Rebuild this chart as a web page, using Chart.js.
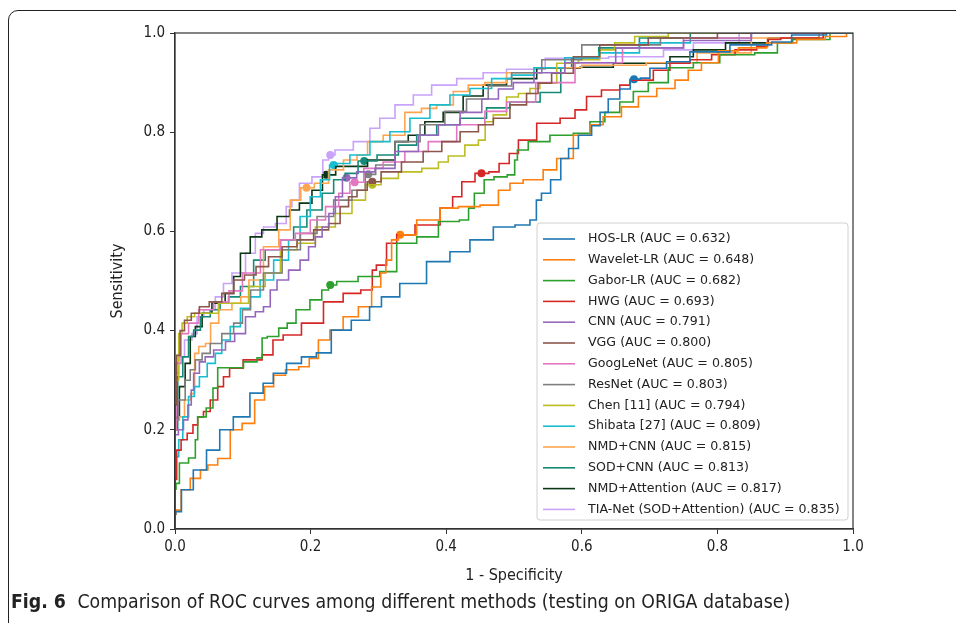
<!DOCTYPE html>
<html>
<head>
<meta charset="utf-8">
<script src="https://cdn.jsdelivr.net/npm/chart.js@4.4.0/dist/chart.umd.min.js"></script>
<style>
  html, body { margin: 0; padding: 0; background: #fff; overflow: hidden; }
  body { width: 956px; height: 623px; position: relative; }
  #frame { position: absolute; left: 8px; top: 10px; width: 1200px; height: 900px;
           border: 1.5px solid #222; border-top-left-radius: 10px; }
  #chart { position: absolute; left: 0; top: 0; }
  #caption { position: absolute; left: 11px; top: 590px; font-size: 19.3px; color: #222;
             font-family: "Liberation Sans Narrow", "DejaVu Sans Condensed", "Liberation Sans", sans-serif;
             white-space: nowrap; }
  #caption b { font-weight: bold; margin-right: 6px; }
</style>
</head>
<body>
<div id="frame"></div>
<canvas id="chart" width="956" height="623"></canvas>
<div id="caption"><b>Fig. 6</b> Comparison of ROC curves among different methods (testing on ORIGA database)</div>
<script>
// ROC curves: [1 - specificity, sensitivity]
const hosLR = [[0,0],[0,0.03],[0.002,0.035],[0.017,0.079],[0.037,0.119],[0.056,0.159],[0.076,0.2],[0.096,0.226],[0.125,0.274],[0.135,0.294],[0.155,0.314],[0.174,0.334],[0.199,0.347],[0.218,0.355],[0.243,0.401],[0.277,0.421],[0.297,0.448],[0.312,0.468],[0.351,0.495],[0.391,0.539],[0.42,0.559],[0.45,0.583],[0.489,0.609],[0.514,0.613],[0.533,0.623],[0.533,0.663],[0.548,0.677],[0.56,0.704],[0.578,0.747],[0.583,0.767],[0.607,0.794],[0.622,0.813],[0.632,0.84],[0.646,0.867],[0.666,0.887],[0.677,0.907],[0.696,0.909],[0.705,0.929],[0.745,0.942],[0.774,0.962],[0.863,0.976],[0.897,0.982],[0.922,0.996],[1,1]];
const waveletLR = [[0,0],[0,0.03],[0.003,0.038],[0.015,0.079],[0.03,0.102],[0.045,0.119],[0.052,0.129],[0.074,0.142],[0.089,0.2],[0.109,0.213],[0.126,0.26],[0.138,0.287],[0.153,0.31],[0.173,0.321],[0.192,0.327],[0.204,0.344],[0.219,0.381],[0.238,0.401],[0.258,0.428],[0.283,0.448],[0.297,0.488],[0.31,0.516],[0.312,0.542],[0.327,0.583],[0.332,0.593],[0.381,0.623],[0.401,0.647],[0.435,0.65],[0.465,0.653],[0.489,0.683],[0.499,0.697],[0.528,0.704],[0.558,0.724],[0.568,0.747],[0.607,0.794],[0.617,0.815],[0.646,0.831],[0.671,0.851],[0.696,0.872],[0.725,0.888],[0.75,0.905],[0.764,0.925],[0.789,0.94],[0.814,0.964],[0.848,0.97],[0.897,0.98],[0.937,0.987],[0.981,0.993],[1,1]];
const gaborLR = [[0,0],[0,0.08],[0.003,0.092],[0.01,0.133],[0.03,0.143],[0.03,0.18],[0.037,0.226],[0.055,0.244],[0.057,0.284],[0.069,0.325],[0.088,0.325],[0.114,0.337],[0.128,0.345],[0.129,0.385],[0.143,0.388],[0.163,0.405],[0.168,0.415],[0.189,0.442],[0.209,0.462],[0.224,0.482],[0.229,0.492],[0.248,0.499],[0.292,0.509],[0.312,0.519],[0.342,0.576],[0.371,0.589],[0.406,0.62],[0.433,0.623],[0.433,0.647],[0.45,0.677],[0.462,0.704],[0.479,0.71],[0.501,0.714],[0.501,0.744],[0.509,0.764],[0.533,0.781],[0.573,0.794],[0.602,0.798],[0.622,0.821],[0.646,0.84],[0.666,0.861],[0.686,0.882],[0.71,0.9],[0.745,0.93],[0.784,0.94],[0.823,0.956],[0.887,0.96],[0.89,0.98],[0.932,0.987],[1,1]];
const hwg = [[0,0],[0,0.1],[0.005,0.159],[0.013,0.18],[0.023,0.193],[0.03,0.21],[0.037,0.226],[0.047,0.237],[0.057,0.26],[0.069,0.287],[0.074,0.307],[0.087,0.324],[0.114,0.341],[0.143,0.351],[0.146,0.381],[0.173,0.391],[0.2,0.415],[0.238,0.458],[0.258,0.475],[0.29,0.482],[0.292,0.522],[0.302,0.532],[0.322,0.576],[0.332,0.593],[0.376,0.613],[0.406,0.647],[0.413,0.67],[0.433,0.7],[0.452,0.717],[0.474,0.72],[0.482,0.737],[0.504,0.757],[0.509,0.784],[0.558,0.818],[0.578,0.828],[0.602,0.845],[0.612,0.872],[0.646,0.885],[0.666,0.895],[0.676,0.905],[0.696,0.905],[0.715,0.925],[0.745,0.939],[0.774,0.946],[0.809,0.956],[0.843,0.966],[0.873,0.973],[0.875,0.987],[0.912,0.99],[1,1]];
const cnn = [[0,0],[0,0.19],[0.01,0.2],[0.015,0.22],[0.023,0.25],[0.025,0.28],[0.03,0.314],[0.042,0.337],[0.047,0.347],[0.067,0.361],[0.082,0.378],[0.094,0.394],[0.114,0.428],[0.123,0.438],[0.138,0.448],[0.143,0.482],[0.158,0.502],[0.177,0.522],[0.192,0.542],[0.202,0.569],[0.212,0.589],[0.222,0.609],[0.232,0.636],[0.241,0.67],[0.253,0.708],[0.283,0.72],[0.307,0.727],[0.342,0.761],[0.376,0.794],[0.401,0.815],[0.44,0.84],[0.465,0.867],[0.489,0.887],[0.509,0.9],[0.55,0.92],[0.6,0.94],[0.7,0.97],[0.8,0.985],[0.9,1],[1,1]];
const vgg = [[0,0],[0,0.25],[0.005,0.35],[0.01,0.4],[0.018,0.421],[0.03,0.435],[0.042,0.448],[0.059,0.458],[0.079,0.475],[0.094,0.502],[0.111,0.512],[0.128,0.529],[0.148,0.549],[0.168,0.569],[0.192,0.583],[0.217,0.603],[0.236,0.616],[0.251,0.65],[0.261,0.67],[0.276,0.683],[0.291,0.7],[0.317,0.72],[0.351,0.74],[0.381,0.761],[0.406,0.781],[0.435,0.801],[0.46,0.815],[0.479,0.828],[0.509,0.855],[0.528,0.878],[0.543,0.899],[0.568,0.919],[0.607,0.952],[0.646,0.976],[0.75,0.99],[0.85,1],[1,1]];
const googLeNet = [[0,0],[0,0.2],[0.003,0.334],[0.015,0.394],[0.025,0.415],[0.045,0.442],[0.069,0.458],[0.09,0.48],[0.109,0.516],[0.143,0.563],[0.168,0.583],[0.187,0.596],[0.212,0.623],[0.232,0.65],[0.251,0.677],[0.265,0.699],[0.292,0.727],[0.322,0.74],[0.356,0.761],[0.391,0.781],[0.44,0.815],[0.474,0.842],[0.504,0.861],[0.56,0.9],[0.62,0.94],[0.7,0.97],[0.8,0.99],[0.9,1],[1,1]];
const resNet = [[0,0],[0,0.22],[0.01,0.26],[0.02,0.3],[0.025,0.321],[0.035,0.341],[0.045,0.354],[0.059,0.374],[0.079,0.394],[0.094,0.415],[0.105,0.442],[0.118,0.482],[0.143,0.516],[0.173,0.563],[0.197,0.596],[0.222,0.63],[0.246,0.663],[0.276,0.683],[0.285,0.715],[0.307,0.734],[0.342,0.781],[0.381,0.815],[0.415,0.842],[0.445,0.867],[0.479,0.893],[0.514,0.92],[0.568,0.946],[0.632,0.976],[0.8,0.99],[0.9,1],[1,1]];
const chen = [[0,0],[0,0.27],[0.003,0.3],[0.008,0.394],[0.013,0.415],[0.023,0.428],[0.035,0.435],[0.059,0.435],[0.069,0.455],[0.094,0.455],[0.123,0.489],[0.143,0.516],[0.168,0.563],[0.192,0.576],[0.222,0.609],[0.251,0.636],[0.271,0.663],[0.291,0.694],[0.317,0.707],[0.342,0.72],[0.386,0.727],[0.391,0.74],[0.415,0.752],[0.44,0.774],[0.455,0.784],[0.46,0.821],[0.479,0.835],[0.499,0.871],[0.514,0.878],[0.533,0.888],[0.543,0.899],[0.583,0.939],[0.607,0.946],[0.646,0.966],[0.651,0.98],[0.705,0.993],[0.75,1],[1,1]];
const shibata = [[0,0],[0,0.14],[0.003,0.146],[0.008,0.18],[0.015,0.226],[0.025,0.267],[0.032,0.287],[0.04,0.307],[0.055,0.334],[0.064,0.354],[0.074,0.381],[0.089,0.408],[0.104,0.445],[0.118,0.468],[0.133,0.502],[0.158,0.542],[0.177,0.583],[0.192,0.63],[0.207,0.67],[0.222,0.704],[0.234,0.734],[0.243,0.737],[0.273,0.754],[0.302,0.781],[0.332,0.801],[0.361,0.828],[0.391,0.855],[0.42,0.875],[0.45,0.888],[0.484,0.908],[0.509,0.915],[0.55,0.93],[0.6,0.95],[0.65,0.96],[0.72,0.98],[0.8,0.99],[0.9,1],[1,1]];
const nmdCNN = [[0,0],[0,0.2],[0.003,0.22],[0.01,0.226],[0.018,0.26],[0.028,0.273],[0.03,0.354],[0.04,0.368],[0.05,0.374],[0.055,0.415],[0.074,0.442],[0.094,0.455],[0.1,0.468],[0.118,0.502],[0.143,0.569],[0.163,0.603],[0.177,0.663],[0.194,0.688],[0.217,0.697],[0.236,0.724],[0.261,0.744],[0.276,0.754],[0.292,0.781],[0.322,0.794],[0.356,0.84],[0.371,0.848],[0.401,0.855],[0.42,0.882],[0.445,0.895],[0.469,0.9],[0.509,0.92],[0.55,0.93],[0.65,0.935],[0.74,0.94],[0.8,0.96],[0.9,0.99],[1,1]];
const sodCNN = [[0,0],[0,0.2],[0.008,0.307],[0.015,0.347],[0.025,0.388],[0.03,0.401],[0.045,0.428],[0.059,0.442],[0.074,0.455],[0.084,0.468],[0.109,0.489],[0.123,0.542],[0.143,0.563],[0.168,0.583],[0.182,0.609],[0.207,0.643],[0.227,0.677],[0.241,0.704],[0.261,0.717],[0.279,0.742],[0.317,0.754],[0.342,0.774],[0.371,0.794],[0.401,0.815],[0.44,0.828],[0.479,0.849],[0.509,0.861],[0.568,0.88],[0.57,0.93],[0.6,0.95],[0.65,0.97],[0.72,0.99],[0.8,1],[1,1]];
const nmdAttention = [[0,0],[0,0.2],[0.003,0.226],[0.01,0.287],[0.02,0.334],[0.025,0.388],[0.035,0.408],[0.045,0.435],[0.064,0.455],[0.084,0.475],[0.089,0.509],[0.104,0.556],[0.118,0.589],[0.138,0.603],[0.163,0.63],[0.175,0.643],[0.192,0.657],[0.212,0.683],[0.223,0.714],[0.251,0.731],[0.317,0.744],[0.332,0.781],[0.356,0.794],[0.381,0.821],[0.41,0.84],[0.44,0.873],[0.469,0.895],[0.509,0.908],[0.558,0.929],[0.637,0.931],[0.656,0.939],[0.705,0.939],[0.755,0.952],[0.774,0.966],[0.85,0.98],[0.9,0.99],[1,1]];
const tiaNet = [[0,0],[0,0.2],[0.003,0.314],[0.008,0.347],[0.02,0.381],[0.03,0.394],[0.035,0.428],[0.05,0.442],[0.069,0.468],[0.074,0.495],[0.094,0.516],[0.114,0.556],[0.123,0.596],[0.138,0.609],[0.158,0.616],[0.17,0.65],[0.175,0.663],[0.192,0.697],[0.212,0.71],[0.224,0.744],[0.229,0.754],[0.243,0.764],[0.283,0.781],[0.292,0.808],[0.312,0.828],[0.337,0.855],[0.366,0.875],[0.391,0.895],[0.44,0.908],[0.469,0.92],[0.509,0.927],[0.583,0.949],[0.696,0.952],[0.745,0.966],[0.784,0.98],[0.88,1],[1,1]];

const labels = ['HOS-LR (AUC = 0.632)', 'Wavelet-LR (AUC = 0.648)', 'Gabor-LR (AUC = 0.682)', 'HWG (AUC = 0.693)',
  'CNN (AUC = 0.791)', 'VGG (AUC = 0.800)', 'GoogLeNet (AUC = 0.805)', 'ResNet (AUC = 0.803)',
  'Chen [11] (AUC = 0.794)', 'Shibata [27] (AUC = 0.809)', 'NMD+CNN (AUC = 0.815)', 'SOD+CNN (AUC = 0.813)',
  'NMD+Attention (AUC = 0.817)', 'TIA-Net (SOD+Attention) (AUC = 0.835)'];
const curves = [hosLR, waveletLR, gaborLR, hwg, cnn, vgg, googLeNet, resNet, chen, shibata, nmdCNN, sodCNN, nmdAttention, tiaNet];
const colors = ['#1f77b4', '#ff7f0e', '#2ca02c', '#d62728', '#9467bd', '#8c564b', '#e377c2', '#7f7f7f',
  '#bcbd22', '#17becf', '#ffa54f', '#168a78', '#0b3514', '#c9a2fa'];
// operating point marked with a dot on each curve
const opPoints = [[0.677,0.907],[0.332,0.593],[0.229,0.492],[0.452,0.717],[0.253,0.708],[0.291,0.7],[0.265,0.699],
  [0.285,0.715],[0.291,0.694],[0.234,0.734],[0.194,0.688],[0.279,0.742],[0.223,0.714],[0.229,0.754]];
const ticks = [0, 0.2, 0.4, 0.6, 0.8, 1.0];

const axisFont = { family: '"DejaVu Sans Condensed", "DejaVu Sans", sans-serif', size: 15 };
const titleFont = { family: '"DejaVu Sans Condensed", "DejaVu Sans", sans-serif', size: 16 };

const datasets = [];
curves.forEach((c, i) => {
  datasets.push({
    label: labels[i],
    data: c.map(p => ({ x: p[0], y: p[1] })),
    showLine: true,
    stepped: 'middle',
    borderColor: colors[i],
    backgroundColor: colors[i],
    borderWidth: 1.6,
    pointRadius: 0
  });
});
opPoints.forEach((p, i) => {
  datasets.push({
    label: '_dot' + i,
    data: [{ x: p[0], y: p[1] }],
    pointRadius: 4,
    pointBackgroundColor: colors[i],
    pointBorderWidth: 0,
    showLine: false
  });
});

// matplotlib style box + legend inside the axes
const boxLegend = {
  id: 'boxLegend',
  afterDatasetsDraw(chart) {
    const ctx = chart.ctx;
    const a = chart.chartArea;
    ctx.save();
    ctx.strokeStyle = '#333';
    ctx.lineWidth = 1.2;
    ctx.strokeRect(a.left, a.top, a.right - a.left, a.bottom - a.top);

    const bx = a.right - 316, by = a.bottom - 306, bw = 311, bh = 297;
    ctx.beginPath();
    ctx.roundRect(bx, by, bw, bh, 3);
    ctx.fillStyle = 'rgba(255,255,255,0.85)';
    ctx.fill();
    ctx.strokeStyle = '#d0d0d0';
    ctx.lineWidth = 1;
    ctx.stroke();

    ctx.font = '12.6px "DejaVu Sans", sans-serif';
    ctx.textBaseline = 'middle';
    ctx.fillStyle = '#222';
    labels.forEach((t, i) => {
      const y = by + 16 + i * 20.8;
      ctx.beginPath();
      ctx.moveTo(bx + 6, y);
      ctx.lineTo(bx + 38, y);
      ctx.strokeStyle = colors[i];
      ctx.lineWidth = 1.6;
      ctx.stroke();
      ctx.fillText(t, bx + 51, y);
    });
    ctx.restore();
  }
};

new Chart(document.getElementById('chart'), {
  type: 'scatter',
  data: { datasets: datasets },
  options: {
    responsive: false,
    animation: false,
    layout: { padding: { left: 104, top: 33, right: 103, bottom: 34 } },
    plugins: { legend: { display: false }, tooltip: { enabled: false } },
    scales: {
      x: {
        type: 'linear', min: 0, max: 1,
        afterFit: s => { s.height = 60; },
        afterBuildTicks: s => { s.ticks = ticks.map(v => ({ value: v })); },
        ticks: { font: axisFont, color: '#222', padding: 4, maxRotation: 0, callback: v => v.toFixed(1) },
        grid: { drawOnChartArea: false, drawTicks: true, tickLength: 5, tickColor: '#333' },
        border: { color: '#333', width: 1.2 },
        title: { display: true, text: '1 - Specificity', font: titleFont, color: '#222', padding: { top: 4, bottom: 4 } }
      },
      y: {
        type: 'linear', min: 0, max: 1,
        afterFit: s => { s.width = 71; },
        afterBuildTicks: s => { s.ticks = ticks.map(v => ({ value: v })); },
        ticks: { font: axisFont, color: '#222', padding: 5, callback: v => v.toFixed(1) },
        grid: { drawOnChartArea: false, drawTicks: true, tickLength: 5, tickColor: '#333' },
        border: { color: '#333', width: 1.2 },
        title: { display: true, text: 'Sensitivity', font: titleFont, color: '#222', padding: { top: 4, bottom: 4 } }
      }
    }
  },
  plugins: [boxLegend]
});
</script>
</body>
</html>
